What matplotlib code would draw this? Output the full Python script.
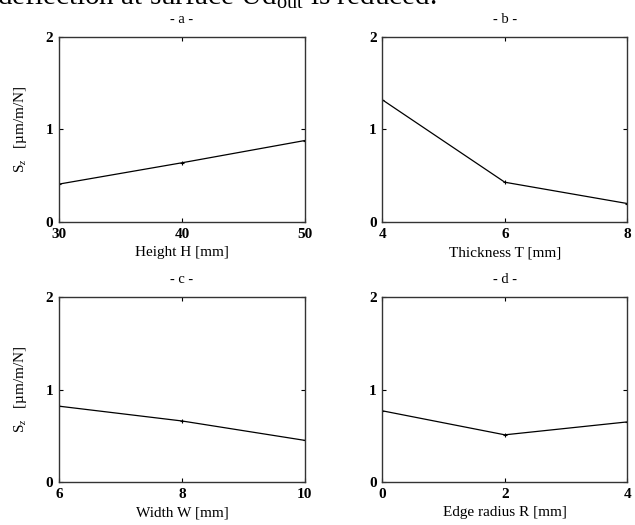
import matplotlib.pyplot as plt

plt.rcParams['font.family'] = 'Liberation Serif'
plt.rcParams['mathtext.fontset'] = 'custom'
plt.rcParams['mathtext.rm'] = 'Liberation Serif'
plt.rcParams['mathtext.it'] = 'Liberation Serif:italic'

# data
height_x = [30, 40, 50]
height_s = [0.41, 0.64, 0.88]
thick_x = [4, 6, 8]
thick_s = [1.32, 0.43, 0.20]
width_x = [6, 8, 10]
width_s = [0.82, 0.66, 0.45]
radius_x = [0, 2, 4]
radius_s = [0.77, 0.51, 0.65]

panels = [
    (height_x, height_s, 'Height H [mm]', '- a -'),
    (thick_x, thick_s, 'Thickness T [mm]', '- b -'),
    (width_x, width_s, 'Width W [mm]', '- c -'),
    (radius_x, radius_s, 'Edge radius R [mm]', '- d -'),
]
boxes = [
    [0.093, 0.577, 0.387, 0.353],
    [0.602, 0.577, 0.386, 0.353],
    [0.093, 0.082, 0.387, 0.352],
    [0.602, 0.082, 0.386, 0.352],
]

fig = plt.figure(figsize=(6.35, 5.25), dpi=100)

# cut-off line of document text above the figure
fig.text(-0.004, 0.990, r'deflection at surface Ud$_{\mathrm{out}}$ is reduced.',
         fontsize=21, va='baseline', ha='left')

for i, ((x, y, xl, ttl), box) in enumerate(zip(panels, boxes)):
    ax = fig.add_axes(box)
    ax.plot(x, y, color='black', lw=0.9, marker='+', ms=3, mew=0.8)
    ax.set_xlim(x[0], x[-1])
    ax.set_ylim(0, 2)
    ax.set_xticks(x)
    ax.set_yticks([0, 1, 2])
    ax.tick_params(direction='in', length=3, width=0.8, top=True, right=True,
                   labelsize=11)
    ax.tick_params(axis='x', pad=4)
    ax.tick_params(axis='y', pad=4)
    for lab in ax.get_xticklabels() + ax.get_yticklabels():
        lab.set_fontweight('bold')
    for sp in ax.spines.values():
        sp.set_linewidth(1.0)
        sp.set_color('#333333')
    ax.set_xlabel(xl, fontsize=11, labelpad=4)
    ax.set_title(ttl, fontsize=10.5, pad=10)
    if i % 2 == 0:
        ax.set_ylabel('S$_z$   [\u00b5m/m/N]', fontsize=11, labelpad=12)

fig.savefig('out.png', dpi=100)
